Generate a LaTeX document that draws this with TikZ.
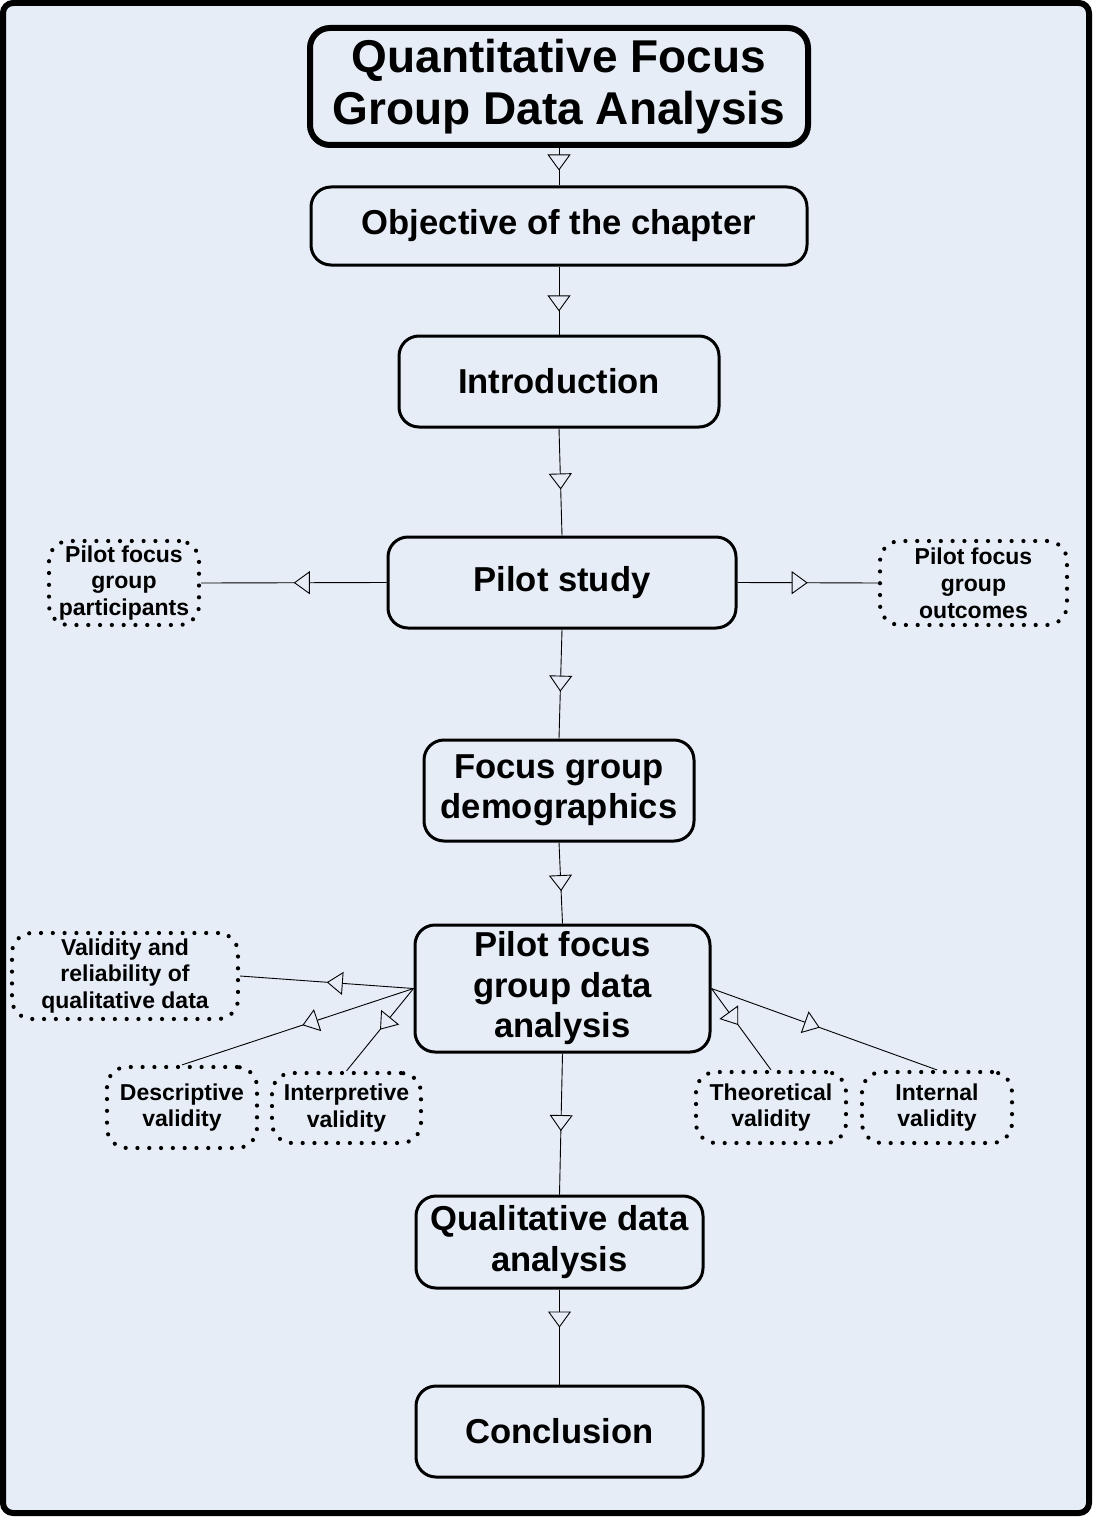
\documentclass[tikz,border=0pt]{standalone}
\usepackage{fontspec}
\setmainfont{Liberation Sans}
\usetikzlibrary{arrows.meta,decorations.markings}

\definecolor{panelfill}{RGB}{230,237,247}

\tikzset{
  titlebox/.style={draw, line width=6pt, rounded corners=20pt, align=center,
    inner sep=0pt, font=\fontsize{46}{52}\bfseries\selectfont},
  mainbox/.style={draw, line width=3pt, rounded corners=20pt, align=center,
    inner sep=0pt, font=\fontsize{34.6}{40.5}\bfseries\selectfont},
  dotbox/.style={draw, line width=4.2pt, line cap=round, dash pattern=on 0pt off 11.8pt,
    rounded corners=20pt, align=center, inner sep=0pt,
    font=\fontsize{23}{26.8}\bfseries\selectfont},
  conn/.style={draw, line width=0.9pt, decoration={markings,
      mark=at position #1 with {\arrow[line width=0.9pt]{Triangle[fill=panelfill,width=23pt,length=16pt]}}},
    postaction={decorate}},
  conn/.default=0.55
}

\begin{document}
\begin{tikzpicture}[x=1pt,y=-1pt]
\useasboundingbox (0,0) rectangle (1093,1517);

% outer panel
\draw[line width=6pt, fill=panelfill, rounded corners=10pt] (3,3) rectangle (1089,1513);

% main chain
\node[titlebox, minimum width=498, minimum height=117] (title) at (559,86.5)
  {Quantitative Focus\\Group Data Analysis};
\node[mainbox, minimum width=496, minimum height=78] (obj) at (559,226)
  {Objective of the chapter};
\node[mainbox, minimum width=320, minimum height=91] (intro) at (559,381.5)
  {Introduction};
\node[mainbox, minimum width=348, minimum height=91] (pilot) at (562,582.5)
  {Pilot study};
\node[mainbox, minimum width=270, minimum height=101] (demo) at (559,790.5)
  {Focus group\\demographics};
\node[mainbox, minimum width=295, minimum height=127] (pfg) at (562.5,988.5)
  {Pilot focus\\group data\\analysis};
\node[mainbox, minimum width=287, minimum height=92] (qda) at (559.5,1242)
  {Qualitative data\\analysis};
\node[mainbox, minimum width=287, minimum height=91] (concl) at (559.5,1431.5)
  {Conclusion};

% side topics
\node[dotbox, minimum width=150, minimum height=84] (part) at (124,583)
  {Pilot focus\\group\\participants};
\node[dotbox, minimum width=187, minimum height=84] (outc) at (973.5,583)
  {Pilot focus\\group\\outcomes};
\node[dotbox, minimum width=226, minimum height=86] (valid) at (125,976)
  {Validity and\\reliability of\\qualitative data};
\node[dotbox, minimum width=150, minimum height=81] (desc) at (182,1107.5)
  {Descriptive\\validity};
\node[dotbox, minimum width=149, minimum height=70] (interp) at (346.5,1108)
  {Interpretive\\validity};
\node[dotbox, minimum width=150, minimum height=71] (theo) at (771,1107.5)
  {Theoretical\\validity};
\node[dotbox, minimum width=150, minimum height=71] (inter) at (937,1107.5)
  {Internal\\validity};

% connectors
\draw[conn=0.6] (title.south) -- (obj.north);
\draw[conn=0.66] (obj.south) -- (intro.north);
\draw[conn=0.57] (intro.south) -- (pilot.north);
\draw[conn=0.5] (pilot.west) -- (part.east);
\draw[conn=0.5] (pilot.east) -- (outc.west);
\draw[conn=0.57] (pilot.south) -- (demo.north);
\draw[conn=0.6] (demo.south) -- (pfg.north);
\draw[conn=0.5] (pfg.west) -- (valid.east);
\draw[conn=0.48] (pfg.west) -- (desc.north);
\draw[conn=0.5] (pfg.west) -- (interp.north);
\draw[conn=0.45] (pfg.east) -- (theo.north);
\draw[conn=0.48] (pfg.east) -- (inter.north);
\draw[conn=0.55] (pfg.south) -- (qda.north);
\draw[conn=0.4] (qda.south) -- (concl.north);
\end{tikzpicture}
\end{document}
